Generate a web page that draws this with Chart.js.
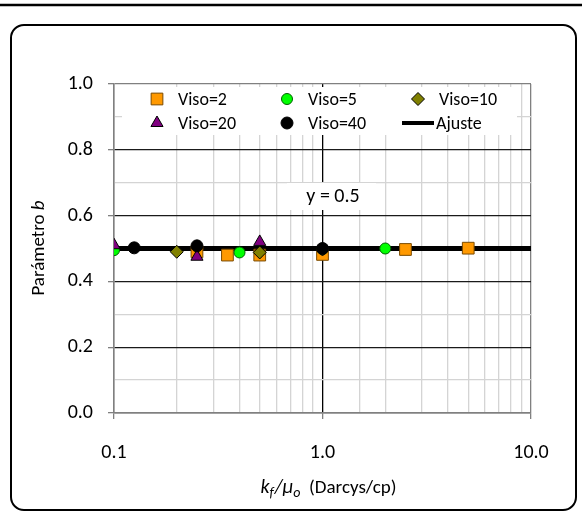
<!DOCTYPE html>
<html>
<head>
<meta charset="utf-8">
<script src="https://cdn.jsdelivr.net/npm/chart.js@4.4.1/dist/chart.umd.min.js"></script>
<style>
  html, body { margin: 0; padding: 0; background: #fff; }
  canvas { display: block; }
</style>
</head>
<body>
<canvas id="paramChart" width="582" height="516"></canvas>
<script>
// values
var viso2X = [0.25, 0.35, 0.5, 1.0, 2.5, 5.0];
var viso2Y = [0.49, 0.48, 0.48, 0.482, 0.497, 0.501];
var viso5X = [0.1, 0.4, 1.0, 2.0];
var viso5Y = [0.495, 0.488, 0.498, 0.5];
var viso10X = [0.2, 0.5, 1.0];
var viso10Y = [0.49, 0.488, 0.497];
var viso20X = [0.1, 0.25, 0.5];
var viso20Y = [0.51, 0.475, 0.52];
var viso40X = [0.125, 0.25, 1.0];
var viso40Y = [0.502, 0.508, 0.5];
var ajusteX = [0.1, 10];
var ajusteY = [0.5, 0.5];
var xLabels = [0.1, 1, 10];

var FONT = 'Carlito, Lato, sans-serif';

function pts(xs, ys){
	var out = [];
	for (var i = 0; i < xs.length; i++){
		out.push({x: xs[i], y: ys[i]});
	}
	return out;
}

function isDecade(v){
	var l = Math.log10(v);
	return Math.abs(l - Math.round(l)) < 1e-6;
}

var frame = {
	id: 'frame',
	beforeDraw: function(chart){
		var c = chart.ctx;
		c.save();
		c.fillStyle = '#fff';
		c.fillRect(0, 0, chart.width, chart.height);
		c.strokeStyle = '#000';
		c.lineWidth = 2.5;
		c.beginPath();
		c.moveTo(0, 5); c.lineTo(582, 5);
		c.stroke();
		c.lineWidth = 2;
		c.beginPath();
		c.roundRect(11, 25, 565, 485, 13);
		c.stroke();
		c.restore();
	},
	afterDraw: function(chart){
		var c = chart.ctx;
		c.save();
		// legend box
		c.fillStyle = '#fff';
		c.fillRect(122, 87, 395, 48);
		var items = [
			{ds: 0, x: 157, y: 99, text: 'Viso=2'},
			{ds: 1, x: 287, y: 99, text: 'Viso=5'},
			{ds: 2, x: 418, y: 99, text: 'Viso=10'},
			{ds: 3, x: 157, y: 123, text: 'Viso=20'},
			{ds: 4, x: 287, y: 123, text: 'Viso=40'},
			{ds: 5, x: 418, y: 123, text: 'Ajuste'}
		];
		c.font = '18px ' + FONT;
		c.textBaseline = 'middle';
		c.textAlign = 'left';
		items.forEach(function(it){
			var d = chart.data.datasets[it.ds];
			if (d.type === 'line'){
				c.strokeStyle = d.borderColor;
				c.lineWidth = 4;
				c.beginPath();
				c.moveTo(it.x - 16, it.y); c.lineTo(it.x + 16, it.y);
				c.stroke();
				c.fillStyle = '#000';
				c.fillText(it.text, it.x + 18, it.y + 1);
			} else {
				c.fillStyle = d.backgroundColor;
				c.strokeStyle = d.borderColor;
				c.lineWidth = 1;
				Chart.helpers.drawPoint(c, {pointStyle: d.pointStyle, radius: d.pointRadius, borderWidth: 1}, it.x, it.y);
				c.fillStyle = '#000';
				c.fillText(it.text, it.x + 21, it.y + 1);
			}
		});
		// fit equation label
		c.fillStyle = '#fff';
		c.fillRect(287, 183, 89, 27);
		c.fillStyle = '#000';
		c.font = '20px ' + FONT;
		c.textAlign = 'center';
		c.fillText('y = 0.5', 333, 197);
		// x axis title, centred under the plot
		c.textAlign = 'left';
		c.textBaseline = 'alphabetic';
		var segs = [
			['k', 'italic 20px ' + FONT, 0, 0],
			['f', 'italic 14px ' + FONT, 4, 1],
			['/', 'italic 20px ' + FONT, 0, 0],
			['\u03bc', 'italic 20px ' + FONT, 0, 0],
			['o', 'italic 14px ' + FONT, 4, 0],
			['  (Darcys/cp)', '19px ' + FONT, 0, 0]
		];
		var total = 0;
		segs.forEach(function(s){ c.font = s[1]; total += c.measureText(s[0]).width + s[3]; });
		var x = (chart.chartArea.left + chart.chartArea.right) / 2 - total / 2 + 6, base = 493;
		segs.forEach(function(s){
			c.font = s[1];
			c.fillText(s[0], x, base + s[2]);
			x += c.measureText(s[0]).width + s[3];
		});
		// y axis title
		c.translate(44, 248);
		c.rotate(-Math.PI / 2);
		c.font = '19px ' + FONT;
		var w1 = c.measureText('Parámetro ').width;
		c.font = 'italic 19px ' + FONT;
		var w2 = c.measureText('b').width;
		var sx = -(w1 + w2) / 2;
		c.font = '19px ' + FONT;
		c.fillText('Parámetro ', sx, 0);
		c.font = 'italic 19px ' + FONT;
		c.fillText('b', sx + w1, 0);
		c.restore();
	}
};

var ctx = document.getElementById('paramChart');
var paramChart = new Chart(ctx, {
	type: 'scatter',
	data: {
		datasets: [
			{label: 'Viso=2', data: pts(viso2X, viso2Y), pointStyle: 'rect', pointRadius: 8.3,
				backgroundColor: '#FF9900', borderColor: '#7A4A00', borderWidth: 1, order: 5},
			{label: 'Viso=5', data: pts(viso5X, viso5Y), pointStyle: 'circle', pointRadius: 5.5,
				backgroundColor: '#00FF00', borderColor: '#006000', borderWidth: 1, order: 4},
			{label: 'Viso=10', data: pts(viso10X, viso10Y), pointStyle: 'rectRot', pointRadius: 6.5,
				backgroundColor: '#808000', borderColor: '#000', borderWidth: 1, order: 3},
			{label: 'Viso=20', data: pts(viso20X, viso20Y), pointStyle: 'triangle', pointRadius: 7,
				backgroundColor: '#800080', borderColor: '#000', borderWidth: 1, order: 2},
			{label: 'Viso=40', data: pts(viso40X, viso40Y), pointStyle: 'circle', pointRadius: 6,
				backgroundColor: '#000', borderColor: '#000', borderWidth: 1, order: 1},
			{label: 'Ajuste', type: 'line', data: pts(ajusteX, ajusteY), borderColor: '#000',
				borderWidth: 5, pointRadius: 0, fill: false, order: 6}
		]
	},
	options: {
		responsive: false,
		animation: false,
		layout: {padding: {left: 0, top: 84, right: 51, bottom: 0}},
		plugins: {legend: {display: false}, tooltip: {enabled: false}},
		scales: {
			x: {
				type: 'logarithmic',
				min: 0.1,
				max: 10,
				afterFit: function(s){ s.height = 103; },
				border: {color: '#808080', width: 1.5},
				grid: {
					color: function(c){
						var v = c.tick.value;
						if (Math.abs(v - 1) < 1e-9) return '#000';
						if (isDecade(v)) return '#808080';
						return '#d4d4d4';
					},
					tickColor: function(c){ return isDecade(c.tick.value) ? '#808080' : 'rgba(0,0,0,0)'; },
					tickLength: 6,
					lineWidth: 1.3
				},
				ticks: {
					autoSkip: false,
					maxRotation: 0,
					padding: 22,
					color: '#000',
					font: {family: FONT, size: 20},
					callback: function(v){
						for (var i = 0; i < xLabels.length; i++){
							if (Math.abs(v - xLabels[i]) < 1e-9) return xLabels[i].toFixed(1);
						}
						return '';
					}
				}
			},
			y: {
				min: 0,
				max: 1,
				afterFit: function(s){ s.width = 114; },
				border: {color: '#808080', width: 1.5},
				grid: {
					color: function(c){
						var n = Math.round(c.tick.value * 10);
						if (n === 10) return '#808080';
						return n % 2 === 0 ? '#1a1a1a' : '#d4d4d4';
					},
					tickColor: function(c){ return Math.round(c.tick.value * 10) % 2 === 0 ? '#808080' : 'rgba(0,0,0,0)'; },
					tickLength: 6,
					lineWidth: 1.3
				},
				ticks: {
					stepSize: 0.1,
					autoSkip: false,
					padding: 15,
					color: '#000',
					font: {family: FONT, size: 20},
					callback: function(v){
						var n = Math.round(v * 10);
						return n % 2 === 0 ? (n / 10).toFixed(1) : '';
					}
				}
			}
		}
	},
	plugins: [frame]
});
</script>
</body>
</html>
